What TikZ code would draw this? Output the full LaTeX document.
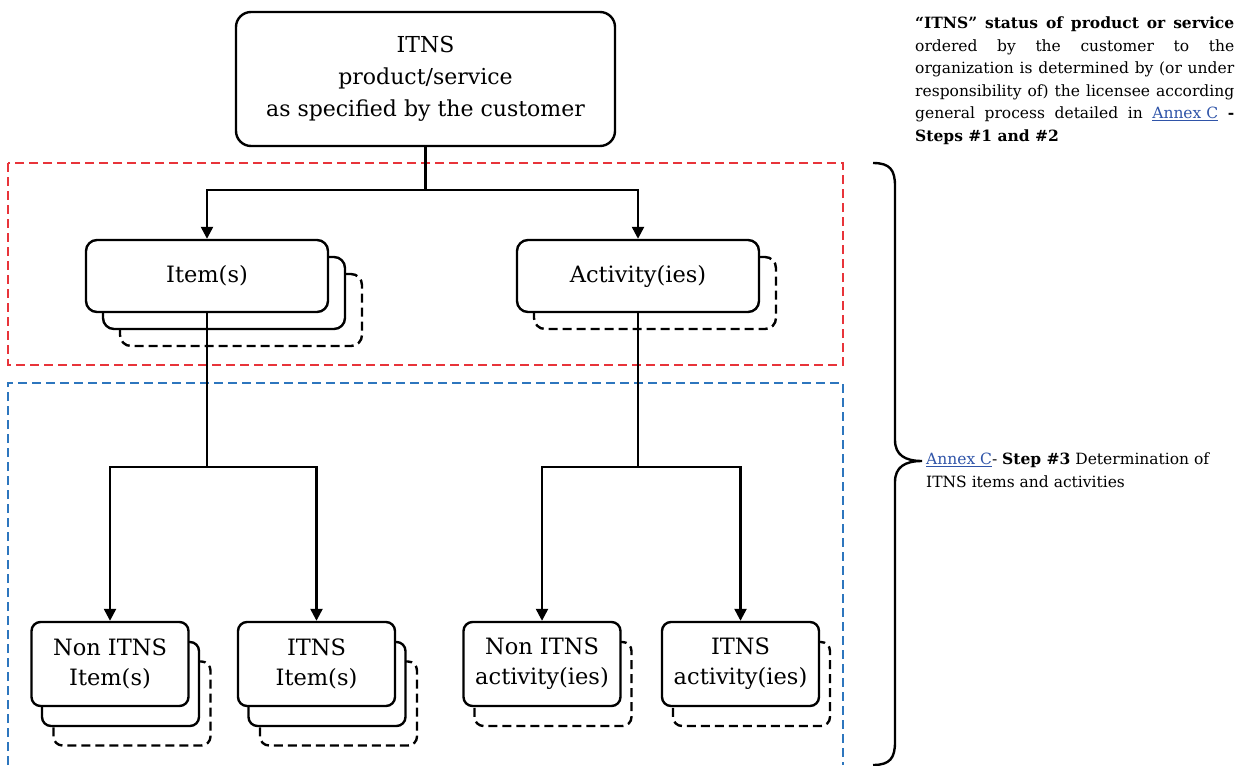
\documentclass[tikz,border=0pt]{standalone}
\usepackage{fontspec}
\setmainfont{DejaVu Serif}
\usepackage{tikz}
\usetikzlibrary{positioning, arrows.meta}
\definecolor{scopered}{RGB}{232,52,58}
\definecolor{scopeblue}{RGB}{45,118,190}
\definecolor{annexblue}{RGB}{47,84,168}

\newcommand{\annexref}{\textcolor{annexblue}{\underline{Annex C}}}

\begin{document}
\begin{tikzpicture}[x=1pt, y=-1pt,
    box/.style={draw, line width=2.4pt, rounded corners=11pt, fill=white, align=center, inner sep=0pt},
    ghostbox/.style={box, dash pattern=on 9pt off 5pt},
    wide/.style={minimum width=242pt, minimum height=72pt},
    small/.style={minimum width=157pt, minimum height=84pt, rounded corners=9pt},
    boxtext/.style={font=\fontsize{22.5}{30}\selectfont},
    link/.style={line width=2.4pt},
    arrow/.style={link, -{Triangle[length=12pt, width=12pt]}},
    frame/.style={line width=1.6pt, dash pattern=on 9pt off 5pt},
    notetext/.style={font=\fontsize{15.5}{22.5}\selectfont, inner sep=0pt}
]
\useasboundingbox (0,0) rectangle (1238,765);

% Scope frames
\draw[frame, scopered] (8,163) rectangle (843,365);
\draw[frame, scopeblue] (8,765) -- (8,383) -- (843,383) -- (843,765);

% Customer specification
\node[box, rounded corners=15pt, minimum width=379pt, minimum height=134pt,
      font=\fontsize{22}{32}\selectfont] (spec) at (425.5,79)
    {ITNS\\product/service\\as specified by the customer};

% Item(s) stack
\node[ghostbox, wide] (items-2) at (241,310) {};
\node[box, wide] (items-1) at (224,293) {};
\node[box, wide, boxtext] (items) at (207,276) {Item(s)};

% Activity(ies) stack
\node[ghostbox, wide] (acts-1) at (655,293) {};
\node[box, wide, boxtext] (acts) at (638,276) {Activity(ies)};

% Item results
\foreach \n/\x/\txt in {nonitem/110/Non ITNS\\Item(s), itnsitem/316.5/ITNS\\Item(s)} {
    \node[ghostbox, small] (\n-2) at (\x+22,703.5) {};
    \node[box, small] (\n-1) at (\x+10.5,684) {};
    \node[box, small, boxtext] (\n) at (\x,664) {\txt};
}

% Activity results
\foreach \n/\x/\txt in {nonact/542/Non ITNS\\activity(ies), itnsact/740.5/ITNS\\activity(ies)} {
    \node[ghostbox, small] (\n-1) at (\x+11,684) {};
    \node[box, small, boxtext] (\n) at (\x,664) {\txt};
}

% Connectors
\coordinate (topfork) at (425.5,190);
\coordinate (itemfork) at (207,467);
\coordinate (actfork) at (638,467);
\draw[link] (spec.south) -- (topfork);
\draw[arrow] (topfork) -| (items.north);
\draw[arrow] (topfork) -| (acts.north);
\draw[link] (items.south) -- (itemfork);
\draw[arrow] (itemfork) -| (nonitem.north);
\draw[arrow] (itemfork) -| (itnsitem.north);
\draw[link] (acts.south) -- (actfork);
\draw[arrow] (actfork) -| (nonact.north);
\draw[arrow] (actfork) -| (itnsact.north);

% Brace
\draw[link] (873,163) .. controls (890,163) and (895,170) .. (895,186)
    -- (895,440) .. controls (895,455) and (905,461) .. (922,461)
    .. controls (905,461) and (895,467) .. (895,482)
    -- (895,742) .. controls (895,758) and (890,765) .. (873,765);

% Notes
\node[notetext, text width=319pt, align=justify, anchor=north west] (statusnote) at (915,17)
    {\textbf{“ITNS” status of product or service}\linebreak
     ordered by the customer to the\linebreak
     organization is determined by (or under\linebreak
     responsibility of) the licensee according\linebreak
     general process detailed in \annexref{} \textbf{-}\linebreak
     \textbf{Steps \#1 and \#2}};
\node[notetext, align=left, anchor=north west] (stepnote) at (926,453)
    {\annexref- \textbf{Step \#3} Determination of\\ITNS items and activities};
\end{tikzpicture}
\end{document}
